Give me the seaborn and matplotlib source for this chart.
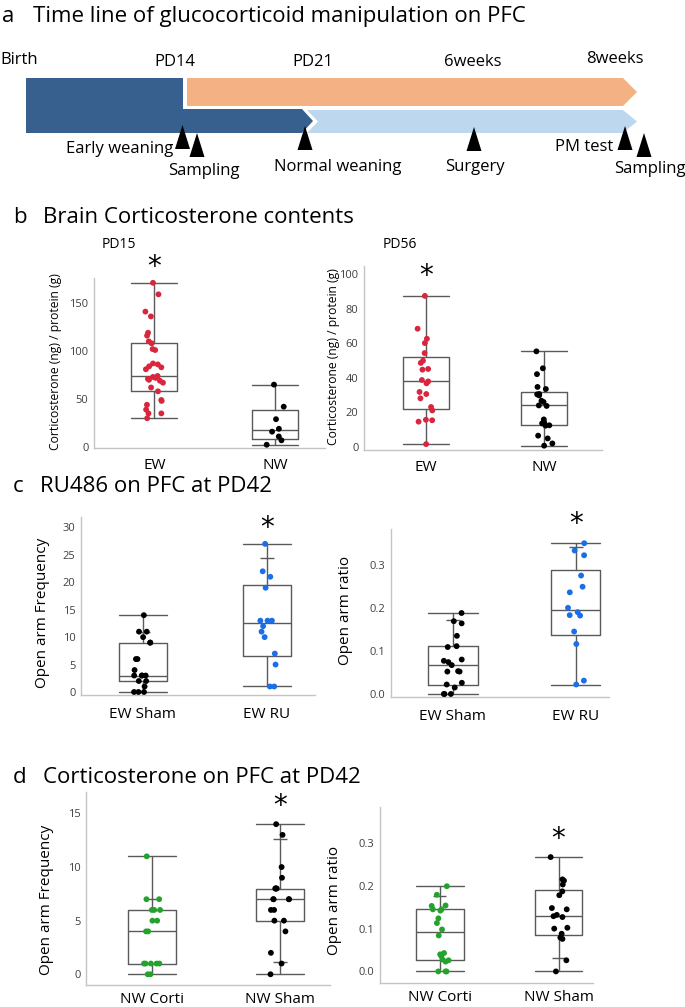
import numpy as np
import pandas as pd
import matplotlib
matplotlib.use("Agg")
import matplotlib.pyplot as plt
from matplotlib.patches import Polygon
import seaborn as sns

# ---------------- data ----------------
pd15_groups = ["EW", "NW"]
pd15_ew = [171, 159, 141, 136, 119, 116, 110, 108, 102, 101, 87, 86, 84, 83, 81, 74,
           73, 72, 71, 70, 69, 67, 62, 58, 49, 48, 44, 39, 35, 35, 30]
pd15_nw = [65, 42, 29, 19, 16, 11, 7, 2.4]

pd56_groups = ["EW", "NW"]
pd56_ew = [87.3, 68.3, 62.5, 60, 54.2, 49.8, 48.5, 45, 44.6, 38.6, 37.8, 36.7, 31.7,
           30.5, 28, 23, 21, 15.6, 15.3, 14.5, 1.5]
pd56_nw = [55.2, 45.4, 42, 34.6, 33.4, 30.5, 30.3, 29.7, 26.6, 25.9, 23.9, 23.6, 15.8,
           14, 13.5, 12.4, 12.2, 6.4, 4.8, 1.9, 0.6]

ru_groups = ["EW Sham", "EW RU"]
ru_freq_sham = [14, 11, 11, 10, 9, 9, 6, 6, 4, 3, 3, 3, 3, 2, 2, 1, 0, 0, 0]
ru_freq_ru = [27, 22, 21, 19, 13, 13, 13, 12, 11, 10, 7, 5, 1, 1]
ru_freq_caps = [[11], [24.4]]
ru_ratio_sham = [0.188, 0.169, 0.164, 0.135, 0.111, 0.109, 0.080, 0.077, 0.074, 0.067,
                 0.053, 0.052, 0.052, 0.026, 0.022, 0.015, 0, 0, 0]
ru_ratio_ru = [0.350, 0.333, 0.322, 0.275, 0.249, 0.236, 0.200, 0.190, 0.183, 0.182,
               0.145, 0.116, 0.031, 0.022]
ru_ratio_caps = [[0.172], [0.341]]

corti_groups = ["NW Corti", "NW Sham"]
corti_freq_corti = [11, 7, 7, 6, 6, 6, 5, 5, 4, 4, 1, 1, 1, 1, 1, 0, 0]
corti_freq_sham = [14, 13, 10, 9, 8, 8, 8, 8, 7, 7, 7, 7, 6, 6, 5, 5, 4, 2, 1, 0]
corti_freq_caps = [[7], [12.6, 1.1]]
corti_ratio_corti = [0.199, 0.179, 0.154, 0.153, 0.145, 0.145, 0.142, 0.124, 0.113,
                     0.098, 0.084, 0.043, 0.040, 0.036, 0.028, 0.026, 0.023, 0, 0, 0]
corti_ratio_sham = [0.267, 0.215, 0.212, 0.203, 0.187, 0.178, 0.148, 0.145, 0.132,
                    0.129, 0.127, 0.102, 0.100, 0.088, 0.079, 0.076, 0.026, 0]
corti_ratio_caps = [[0.177], [0.032]]

time_labels = ["Birth", "PD14", "PD21", "6weeks", "8weeks"]
event_labels = ["Early weaning", "Sampling", "Normal weaning", "Surgery", "PM test", "Sampling"]

# ---------------- style ----------------
sns.set_style("white")
plt.rcParams["font.family"] = ["Open Sans", "DejaVu Sans"]
plt.rcParams["text.color"] = "black"
plt.rcParams["xtick.color"] = "black"

W, H = 685, 1007
fig = plt.figure(figsize=(W / 100, H / 100), dpi=100)

RED = "#d7263d"
BLUE = "#1a6ee8"
GREEN = "#23a32b"
BLACK = "#000000"
LINE = "#5a5a5a"
SPINE = "#c4c4c4"
TICKC = "#404040"


def rect(x0, yt, x1, yb):
    return [x0 / W, 1 - yb / H, (x1 - x0) / W, (yb - yt) / H]


def ftext(x, y, s, **kw):
    fig.text(x / W, 1 - y / H, s, **kw)


# ---------------- panel a: timeline ----------------
axa = fig.add_axes([0, 1 - 185 / H, 1, 185 / H])
axa.set_xlim(0, W)
axa.set_ylim(185, 0)
axa.axis("off")

DARK = "#37608f"
ORANGE = "#f4b183"
LIGHT = "#bdd7ee"
axa.add_patch(Polygon([(26, 78), (183, 78), (183, 109), (302, 109), (313, 121),
                       (302, 133), (26, 133)], closed=True, fc=DARK, ec="none"))
axa.add_patch(Polygon([(187, 78), (623, 78), (637, 92), (623, 106), (187, 106)],
                      closed=True, fc=ORANGE, ec="none"))
axa.add_patch(Polygon([(307, 110), (623, 110), (637, 121.5), (623, 133), (307, 133),
                       (318, 121.5)], closed=True, fc=LIGHT, ec="none"))

tri_pos = [(182.5, 125), (197, 133), (305, 126), (474, 127), (625, 126), (644, 133)]
for cx, top in tri_pos:
    axa.add_patch(Polygon([(cx, top), (cx + 7.5, top + 24), (cx - 7.5, top + 24)],
                          closed=True, fc="black", ec="none"))

tl_pos = [(0, 64, "left"), (174.5, 66, "center"), (313, 66, "center"),
          (473, 66, "center"), (614.5, 63, "center")]
for lab, (x, y, ha) in zip(time_labels, tl_pos):
    axa.text(x, y, lab, fontsize=12, ha=ha, va="baseline")

ev_pos = [(173, 153, "right"), (168, 175, "left"), (274, 171, "left"),
          (445, 171, "left"), (613, 151, "right"), (614, 173, "left")]
for lab, (x, y, ha) in zip(event_labels, ev_pos):
    axa.text(x, y, lab, fontsize=12, ha=ha, va="baseline")

# ---------------- titles ----------------
TS = 16
ftext(2, 22, "a", fontsize=TS, va="baseline")
ftext(33, 22, "Time line of glucocorticoid manipulation on PFC", fontsize=TS, va="baseline")
ftext(13, 223, "b", fontsize=TS, va="baseline")
ftext(43, 223, "Brain Corticosterone contents", fontsize=TS, va="baseline")
ftext(13, 492, "c", fontsize=TS, va="baseline")
ftext(40, 492, "RU486 on PFC at PD42", fontsize=TS, va="baseline")
ftext(13, 783, "d", fontsize=TS, va="baseline")
ftext(43, 783, "Corticosterone on PFC at PD42", fontsize=TS, va="baseline")
ftext(102, 248, "PD15", fontsize=10, va="baseline")
ftext(383, 248, "PD56", fontsize=10, va="baseline")


# ---------------- box panels ----------------
def box_panel(r, groups, values, colors, ylim, xlim, yticks, fmt, width, caps,
              star, tick_size, cat_size, cat_pad, seed):
    ax = fig.add_axes(r)
    df = pd.DataFrame({
        "group": np.repeat(groups, [len(v) for v in values]),
        "value": np.concatenate([np.asarray(v, float) for v in values]),
    })
    np.random.seed(seed)
    sns.stripplot(data=df, x="group", y="value", hue="group", order=groups,
                  hue_order=groups, palette=colors, jitter=0.075, size=4.2,
                  linewidth=0, legend=False, ax=ax, zorder=3)
    stats = []
    for g, v in zip(groups, values):
        v = np.asarray(v, float)
        q1, med, q3 = np.percentile(v, [25, 50, 75], method="weibull")
        stats.append(dict(med=med, q1=q1, q3=q3, whislo=v.min(), whishi=v.max(),
                          fliers=[], label=g))
    lp = dict(color=LINE, lw=1.0)
    ax.bxp(stats, positions=range(len(groups)), widths=width, capwidths=width,
           showfliers=False, patch_artist=False, manage_ticks=False,
           boxprops=lp, whiskerprops=lp, capprops=lp, medianprops=lp, zorder=2)
    if caps is not None:
        for i, cl in enumerate(caps):
            ax.hlines(cl, i - 0.055, i + 0.055, color=LINE, lw=1.0, zorder=2)
    gi, sy = star
    ax.text(gi, sy, "*", fontsize=20, ha="center", va="center",
            family="DejaVu Sans", clip_on=False)
    ax.set_ylim(*ylim)
    ax.set_xlim(*xlim)
    ax.set_yticks(yticks)
    ax.set_yticklabels([fmt.format(t) for t in yticks], fontsize=tick_size, color=TICKC)
    ax.set_xticks(range(len(groups)))
    ax.set_xticklabels(groups, fontsize=cat_size, color="black")
    ax.tick_params(axis="both", length=0)
    ax.tick_params(axis="x", pad=cat_pad)
    ax.tick_params(axis="y", pad=4)
    ax.set_xlabel("")
    ax.set_ylabel("")
    for s in ["top", "right"]:
        ax.spines[s].set_visible(False)
    for s in ["left", "bottom"]:
        ax.spines[s].set_color(SPINE)
        ax.spines[s].set_linewidth(1.0)
    return ax


box_panel(rect(94, 278, 325, 448), pd15_groups, [pd15_ew, pd15_nw], [RED, BLACK],
          (-1, 176), (-0.5, 1.41), [0, 50, 100, 150], "{:.0f}", 0.38, None,
          (0, 187), 8, 11, 7, 1)
box_panel(rect(364, 266, 602, 450), pd56_groups, [pd56_ew, pd56_nw], [RED, BLACK],
          (-1.9, 104.6), (-0.525, 1.49), [0, 20, 40, 60, 80, 100], "{:.0f}", 0.39, None,
          (0, 98.8), 8, 11, 7, 2)
box_panel(rect(81, 517, 315, 695), ru_groups, [ru_freq_sham, ru_freq_ru], [BLACK, BLUE],
          (-0.55, 31.9), (-0.5, 1.39), [0, 5, 10, 15, 20, 25, 30], "{:.0f}", 0.39,
          ru_freq_caps, (1, 29.9), 8, 11, 9, 3)
box_panel(rect(391, 529, 609, 697), ru_groups, [ru_ratio_sham, ru_ratio_ru], [BLACK, BLUE],
          (-0.007, 0.383), (-0.504, 1.27), [0.0, 0.1, 0.2, 0.3], "{:.1f}", 0.4,
          ru_ratio_caps, (1, 0.395), 8, 11, 9, 4)
box_panel(rect(86, 792, 330, 985), corti_groups, [corti_freq_corti, corti_freq_sham],
          [GREEN, BLACK], (-1, 17), (-0.516, 1.39), [0, 5, 10, 15], "{:.0f}", 0.38,
          corti_freq_caps, (1, 15.7), 8, 11, 5, 5)
box_panel(rect(380, 807, 593, 983), corti_groups, [corti_ratio_corti, corti_ratio_sham],
          [GREEN, BLACK], (-0.027, 0.384), (-0.504, 1.29), [0.0, 0.1, 0.2, 0.3], "{:.1f}",
          0.4, corti_ratio_caps, (1, 0.309), 8, 11, 5, 6)

# y labels
ftext(56, 362, "Corticosterone (ng) / protein (g)", fontsize=8.7, rotation=90,
      ha="center", va="center")
ftext(334, 357, "Corticosterone (ng) / protein (g)", fontsize=8.7, rotation=90,
      ha="center", va="center")
ftext(43, 613, "Open arm Frequency", fontsize=11, rotation=90, ha="center", va="center")
ftext(345, 610, "Open arm ratio", fontsize=11, rotation=90, ha="center", va="center")
ftext(47, 900, "Open arm Frequency", fontsize=11, rotation=90, ha="center", va="center")
ftext(335, 900, "Open arm ratio", fontsize=11, rotation=90, ha="center", va="center")

fig.savefig("out.png", dpi=100)
